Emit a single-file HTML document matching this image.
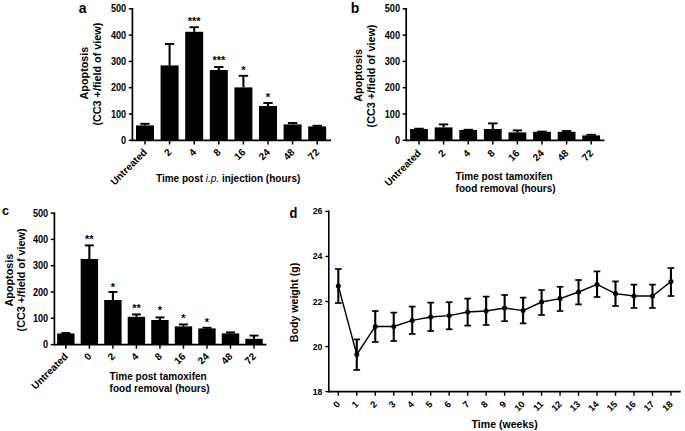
<!DOCTYPE html>
<html><head><meta charset="utf-8"><style>
html,body{margin:0;padding:0;background:#fff;}
svg{display:block;}
</style></head><body>
<svg width="685" height="431" viewBox="0 0 685 431" font-family='"Liberation Sans", sans-serif' fill="#000" stroke="#000">
<rect x="0" y="0" width="685" height="431" fill="#fff" stroke="none"/>
<g stroke="none">
</g>
<line x1="132.40" y1="8.00" x2="132.40" y2="141.10" stroke-width="1.7"/>
<line x1="128.80" y1="140.30" x2="132.40" y2="140.30" stroke-width="1.5"/>
<text stroke="none" x="0.00" y="0.00" font-size="10.2" text-anchor="end" font-weight="bold" transform="translate(126.20 143.90) scale(0.9 1)">0</text>
<line x1="128.80" y1="114.00" x2="132.40" y2="114.00" stroke-width="1.5"/>
<text stroke="none" x="0.00" y="0.00" font-size="10.2" text-anchor="end" font-weight="bold" transform="translate(126.20 117.60) scale(0.9 1)">100</text>
<line x1="128.80" y1="87.70" x2="132.40" y2="87.70" stroke-width="1.5"/>
<text stroke="none" x="0.00" y="0.00" font-size="10.2" text-anchor="end" font-weight="bold" transform="translate(126.20 91.30) scale(0.9 1)">200</text>
<line x1="128.80" y1="61.40" x2="132.40" y2="61.40" stroke-width="1.5"/>
<text stroke="none" x="0.00" y="0.00" font-size="10.2" text-anchor="end" font-weight="bold" transform="translate(126.20 65.00) scale(0.9 1)">300</text>
<line x1="128.80" y1="35.10" x2="132.40" y2="35.10" stroke-width="1.5"/>
<text stroke="none" x="0.00" y="0.00" font-size="10.2" text-anchor="end" font-weight="bold" transform="translate(126.20 38.70) scale(0.9 1)">400</text>
<line x1="128.80" y1="8.80" x2="132.40" y2="8.80" stroke-width="1.5"/>
<text stroke="none" x="0.00" y="0.00" font-size="10.2" text-anchor="end" font-weight="bold" transform="translate(126.20 12.40) scale(0.9 1)">500</text>
<line x1="131.60" y1="140.30" x2="331.00" y2="140.30" stroke-width="1.7"/>
<rect x="136.00" y="125.40" width="18.00" height="14.90" stroke="none"/>
<line x1="145.00" y1="125.40" x2="145.00" y2="123.80" stroke-width="2.1"/>
<line x1="140.30" y1="123.80" x2="149.70" y2="123.80" stroke-width="1.9"/>
<line x1="145.00" y1="140.30" x2="145.00" y2="144.50" stroke-width="1.5"/>
<text stroke="none" x="147.70" y="152.80" font-size="10" text-anchor="end" font-weight="bold" transform="rotate(-45 147.70 152.80)">Untreated</text>
<rect x="160.60" y="65.40" width="18.00" height="74.90" stroke="none"/>
<line x1="169.60" y1="65.40" x2="169.60" y2="44.00" stroke-width="2.1"/>
<line x1="164.90" y1="44.00" x2="174.30" y2="44.00" stroke-width="1.9"/>
<line x1="169.60" y1="140.30" x2="169.60" y2="144.50" stroke-width="1.5"/>
<text stroke="none" x="172.30" y="152.80" font-size="10" text-anchor="end" font-weight="bold" transform="rotate(-45 172.30 152.80)">2</text>
<rect x="185.20" y="31.80" width="18.00" height="108.50" stroke="none"/>
<line x1="194.20" y1="31.80" x2="194.20" y2="27.20" stroke-width="2.1"/>
<line x1="189.50" y1="27.20" x2="198.90" y2="27.20" stroke-width="1.9"/>
<line x1="194.20" y1="140.30" x2="194.20" y2="144.50" stroke-width="1.5"/>
<text stroke="none" x="196.90" y="152.80" font-size="10" text-anchor="end" font-weight="bold" transform="rotate(-45 196.90 152.80)">4</text>
<text stroke="none" x="194.20" y="25.40" font-size="11" text-anchor="middle" font-weight="bold">***</text>
<rect x="209.80" y="70.00" width="18.00" height="70.30" stroke="none"/>
<line x1="218.80" y1="70.00" x2="218.80" y2="67.00" stroke-width="2.1"/>
<line x1="214.10" y1="67.00" x2="223.50" y2="67.00" stroke-width="1.9"/>
<line x1="218.80" y1="140.30" x2="218.80" y2="144.50" stroke-width="1.5"/>
<text stroke="none" x="221.50" y="152.80" font-size="10" text-anchor="end" font-weight="bold" transform="rotate(-45 221.50 152.80)">8</text>
<text stroke="none" x="218.80" y="64.20" font-size="11" text-anchor="middle" font-weight="bold">***</text>
<rect x="234.40" y="87.40" width="18.00" height="52.90" stroke="none"/>
<line x1="243.40" y1="87.40" x2="243.40" y2="75.80" stroke-width="2.1"/>
<line x1="238.70" y1="75.80" x2="248.10" y2="75.80" stroke-width="1.9"/>
<line x1="243.40" y1="140.30" x2="243.40" y2="144.50" stroke-width="1.5"/>
<text stroke="none" x="246.10" y="152.80" font-size="10" text-anchor="end" font-weight="bold" transform="rotate(-45 246.10 152.80)">16</text>
<text stroke="none" x="243.40" y="73.80" font-size="11" text-anchor="middle" font-weight="bold">*</text>
<rect x="259.00" y="106.00" width="18.00" height="34.30" stroke="none"/>
<line x1="268.00" y1="106.00" x2="268.00" y2="103.00" stroke-width="2.1"/>
<line x1="263.30" y1="103.00" x2="272.70" y2="103.00" stroke-width="1.9"/>
<line x1="268.00" y1="140.30" x2="268.00" y2="144.50" stroke-width="1.5"/>
<text stroke="none" x="270.70" y="152.80" font-size="10" text-anchor="end" font-weight="bold" transform="rotate(-45 270.70 152.80)">24</text>
<text stroke="none" x="268.00" y="101.20" font-size="11" text-anchor="middle" font-weight="bold">*</text>
<rect x="283.60" y="124.40" width="18.00" height="15.90" stroke="none"/>
<line x1="292.60" y1="124.40" x2="292.60" y2="123.00" stroke-width="2.1"/>
<line x1="287.90" y1="123.00" x2="297.30" y2="123.00" stroke-width="1.9"/>
<line x1="292.60" y1="140.30" x2="292.60" y2="144.50" stroke-width="1.5"/>
<text stroke="none" x="295.30" y="152.80" font-size="10" text-anchor="end" font-weight="bold" transform="rotate(-45 295.30 152.80)">48</text>
<rect x="308.20" y="126.40" width="18.00" height="13.90" stroke="none"/>
<line x1="317.20" y1="126.40" x2="317.20" y2="125.80" stroke-width="2.1"/>
<line x1="312.50" y1="125.80" x2="321.90" y2="125.80" stroke-width="1.9"/>
<line x1="317.20" y1="140.30" x2="317.20" y2="144.50" stroke-width="1.5"/>
<text stroke="none" x="319.90" y="152.80" font-size="10" text-anchor="end" font-weight="bold" transform="rotate(-45 319.90 152.80)">72</text>
<text stroke="none" x="156.00" y="181.50" font-size="10" font-weight="bold">Time post <tspan font-style="italic" font-weight="normal">i.p.</tspan> injection (hours)</text>
<text stroke="none" x="78.80" y="12.80" font-size="14" text-anchor="start" font-weight="bold">a</text>
<text stroke="none" x="88.40" y="73.05" font-size="10.8" text-anchor="middle" font-weight="bold" transform="rotate(-90 88.40 73.05)">Apoptosis</text>
<text stroke="none" x="101.20" y="74.15" font-size="10.8" text-anchor="middle" font-weight="bold" transform="rotate(-90 101.20 74.15)">(CC3 +/field of view)</text>
<line x1="406.20" y1="8.00" x2="406.20" y2="141.10" stroke-width="1.7"/>
<line x1="402.60" y1="140.30" x2="406.20" y2="140.30" stroke-width="1.5"/>
<text stroke="none" x="0.00" y="0.00" font-size="10.2" text-anchor="end" font-weight="bold" transform="translate(400.00 143.90) scale(0.9 1)">0</text>
<line x1="402.60" y1="114.00" x2="406.20" y2="114.00" stroke-width="1.5"/>
<text stroke="none" x="0.00" y="0.00" font-size="10.2" text-anchor="end" font-weight="bold" transform="translate(400.00 117.60) scale(0.9 1)">100</text>
<line x1="402.60" y1="87.70" x2="406.20" y2="87.70" stroke-width="1.5"/>
<text stroke="none" x="0.00" y="0.00" font-size="10.2" text-anchor="end" font-weight="bold" transform="translate(400.00 91.30) scale(0.9 1)">200</text>
<line x1="402.60" y1="61.40" x2="406.20" y2="61.40" stroke-width="1.5"/>
<text stroke="none" x="0.00" y="0.00" font-size="10.2" text-anchor="end" font-weight="bold" transform="translate(400.00 65.00) scale(0.9 1)">300</text>
<line x1="402.60" y1="35.10" x2="406.20" y2="35.10" stroke-width="1.5"/>
<text stroke="none" x="0.00" y="0.00" font-size="10.2" text-anchor="end" font-weight="bold" transform="translate(400.00 38.70) scale(0.9 1)">400</text>
<line x1="402.60" y1="8.80" x2="406.20" y2="8.80" stroke-width="1.5"/>
<text stroke="none" x="0.00" y="0.00" font-size="10.2" text-anchor="end" font-weight="bold" transform="translate(400.00 12.40) scale(0.9 1)">500</text>
<line x1="405.40" y1="140.30" x2="604.40" y2="140.30" stroke-width="1.7"/>
<rect x="410.10" y="129.00" width="17.80" height="11.30" stroke="none"/>
<line x1="414.30" y1="128.70" x2="423.70" y2="128.70" stroke-width="1.9"/>
<line x1="419.00" y1="140.30" x2="419.00" y2="144.50" stroke-width="1.5"/>
<text stroke="none" x="421.70" y="153.80" font-size="10" text-anchor="end" font-weight="bold" transform="rotate(-45 421.70 153.80)">Untreated</text>
<rect x="434.70" y="127.40" width="17.80" height="12.90" stroke="none"/>
<line x1="443.60" y1="127.40" x2="443.60" y2="124.40" stroke-width="2.1"/>
<line x1="438.90" y1="124.40" x2="448.30" y2="124.40" stroke-width="1.9"/>
<line x1="443.60" y1="140.30" x2="443.60" y2="144.50" stroke-width="1.5"/>
<text stroke="none" x="446.30" y="153.80" font-size="10" text-anchor="end" font-weight="bold" transform="rotate(-45 446.30 153.80)">2</text>
<rect x="459.30" y="130.00" width="17.80" height="10.30" stroke="none"/>
<line x1="463.50" y1="129.80" x2="472.90" y2="129.80" stroke-width="1.9"/>
<line x1="468.20" y1="140.30" x2="468.20" y2="144.50" stroke-width="1.5"/>
<text stroke="none" x="470.90" y="153.80" font-size="10" text-anchor="end" font-weight="bold" transform="rotate(-45 470.90 153.80)">4</text>
<rect x="483.90" y="129.00" width="17.80" height="11.30" stroke="none"/>
<line x1="492.80" y1="129.00" x2="492.80" y2="123.40" stroke-width="2.1"/>
<line x1="488.10" y1="123.40" x2="497.50" y2="123.40" stroke-width="1.9"/>
<line x1="492.80" y1="140.30" x2="492.80" y2="144.50" stroke-width="1.5"/>
<text stroke="none" x="495.50" y="153.80" font-size="10" text-anchor="end" font-weight="bold" transform="rotate(-45 495.50 153.80)">8</text>
<rect x="508.50" y="132.40" width="17.80" height="7.90" stroke="none"/>
<line x1="517.40" y1="132.40" x2="517.40" y2="130.40" stroke-width="2.1"/>
<line x1="512.70" y1="130.40" x2="522.10" y2="130.40" stroke-width="1.9"/>
<line x1="517.40" y1="140.30" x2="517.40" y2="144.50" stroke-width="1.5"/>
<text stroke="none" x="520.10" y="153.80" font-size="10" text-anchor="end" font-weight="bold" transform="rotate(-45 520.10 153.80)">16</text>
<rect x="533.10" y="131.80" width="17.80" height="8.50" stroke="none"/>
<line x1="537.30" y1="131.60" x2="546.70" y2="131.60" stroke-width="1.9"/>
<line x1="542.00" y1="140.30" x2="542.00" y2="144.50" stroke-width="1.5"/>
<text stroke="none" x="544.70" y="153.80" font-size="10" text-anchor="end" font-weight="bold" transform="rotate(-45 544.70 153.80)">24</text>
<rect x="557.70" y="131.80" width="17.80" height="8.50" stroke="none"/>
<line x1="566.60" y1="131.80" x2="566.60" y2="131.00" stroke-width="2.1"/>
<line x1="561.90" y1="131.00" x2="571.30" y2="131.00" stroke-width="1.9"/>
<line x1="566.60" y1="140.30" x2="566.60" y2="144.50" stroke-width="1.5"/>
<text stroke="none" x="569.30" y="153.80" font-size="10" text-anchor="end" font-weight="bold" transform="rotate(-45 569.30 153.80)">48</text>
<rect x="582.30" y="135.40" width="17.80" height="4.90" stroke="none"/>
<line x1="591.20" y1="135.40" x2="591.20" y2="134.80" stroke-width="2.1"/>
<line x1="586.50" y1="134.80" x2="595.90" y2="134.80" stroke-width="1.9"/>
<line x1="591.20" y1="140.30" x2="591.20" y2="144.50" stroke-width="1.5"/>
<text stroke="none" x="593.90" y="153.80" font-size="10" text-anchor="end" font-weight="bold" transform="rotate(-45 593.90 153.80)">72</text>
<text stroke="none" x="455.60" y="179.50" font-size="10" font-weight="bold">Time post tamoxifen</text>
<text stroke="none" x="455.60" y="191.50" font-size="10" font-weight="bold">food removal (hours)</text>
<text stroke="none" x="350.80" y="13.30" font-size="14" text-anchor="start" font-weight="bold">b</text>
<text stroke="none" x="362.50" y="75.45" font-size="10.8" text-anchor="middle" font-weight="bold" transform="rotate(-90 362.50 75.45)">Apoptosis</text>
<text stroke="none" x="375.30" y="76.00" font-size="10.8" text-anchor="middle" font-weight="bold" transform="rotate(-90 375.30 76.00)">(CC3 +/field of view)</text>
<line x1="54.40" y1="212.30" x2="54.40" y2="345.40" stroke-width="1.7"/>
<line x1="50.80" y1="344.60" x2="54.40" y2="344.60" stroke-width="1.5"/>
<text stroke="none" x="0.00" y="0.00" font-size="10.2" text-anchor="end" font-weight="bold" transform="translate(48.20 348.20) scale(0.9 1)">0</text>
<line x1="50.80" y1="318.30" x2="54.40" y2="318.30" stroke-width="1.5"/>
<text stroke="none" x="0.00" y="0.00" font-size="10.2" text-anchor="end" font-weight="bold" transform="translate(48.20 321.90) scale(0.9 1)">100</text>
<line x1="50.80" y1="292.00" x2="54.40" y2="292.00" stroke-width="1.5"/>
<text stroke="none" x="0.00" y="0.00" font-size="10.2" text-anchor="end" font-weight="bold" transform="translate(48.20 295.60) scale(0.9 1)">200</text>
<line x1="50.80" y1="265.70" x2="54.40" y2="265.70" stroke-width="1.5"/>
<text stroke="none" x="0.00" y="0.00" font-size="10.2" text-anchor="end" font-weight="bold" transform="translate(48.20 269.30) scale(0.9 1)">300</text>
<line x1="50.80" y1="239.40" x2="54.40" y2="239.40" stroke-width="1.5"/>
<text stroke="none" x="0.00" y="0.00" font-size="10.2" text-anchor="end" font-weight="bold" transform="translate(48.20 243.00) scale(0.9 1)">400</text>
<line x1="50.80" y1="213.10" x2="54.40" y2="213.10" stroke-width="1.5"/>
<text stroke="none" x="0.00" y="0.00" font-size="10.2" text-anchor="end" font-weight="bold" transform="translate(48.20 216.70) scale(0.9 1)">500</text>
<line x1="53.60" y1="344.60" x2="266.40" y2="344.60" stroke-width="1.7"/>
<rect x="57.15" y="333.50" width="17.40" height="11.10" stroke="none"/>
<line x1="65.85" y1="333.50" x2="65.85" y2="333.00" stroke-width="2.1"/>
<line x1="61.35" y1="333.00" x2="70.35" y2="333.00" stroke-width="1.9"/>
<line x1="65.85" y1="344.60" x2="65.85" y2="348.80" stroke-width="1.5"/>
<text stroke="none" x="68.55" y="357.10" font-size="10" text-anchor="end" font-weight="bold" transform="rotate(-45 68.55 357.10)">Untreated</text>
<rect x="80.67" y="259.00" width="17.40" height="85.60" stroke="none"/>
<line x1="89.37" y1="259.00" x2="89.37" y2="245.40" stroke-width="2.1"/>
<line x1="84.87" y1="245.40" x2="93.87" y2="245.40" stroke-width="1.9"/>
<line x1="89.37" y1="344.60" x2="89.37" y2="348.80" stroke-width="1.5"/>
<text stroke="none" x="92.07" y="357.10" font-size="10" text-anchor="end" font-weight="bold" transform="rotate(-45 92.07 357.10)">0</text>
<text stroke="none" x="89.37" y="243.20" font-size="11" text-anchor="middle" font-weight="bold">**</text>
<rect x="104.19" y="300.00" width="17.40" height="44.60" stroke="none"/>
<line x1="112.89" y1="300.00" x2="112.89" y2="292.00" stroke-width="2.1"/>
<line x1="108.39" y1="292.00" x2="117.39" y2="292.00" stroke-width="1.9"/>
<line x1="112.89" y1="344.60" x2="112.89" y2="348.80" stroke-width="1.5"/>
<text stroke="none" x="115.59" y="357.10" font-size="10" text-anchor="end" font-weight="bold" transform="rotate(-45 115.59 357.10)">2</text>
<text stroke="none" x="112.89" y="291.20" font-size="11" text-anchor="middle" font-weight="bold">*</text>
<rect x="127.71" y="316.80" width="17.40" height="27.80" stroke="none"/>
<line x1="136.41" y1="316.80" x2="136.41" y2="314.40" stroke-width="2.1"/>
<line x1="131.91" y1="314.40" x2="140.91" y2="314.40" stroke-width="1.9"/>
<line x1="136.41" y1="344.60" x2="136.41" y2="348.80" stroke-width="1.5"/>
<text stroke="none" x="139.11" y="357.10" font-size="10" text-anchor="end" font-weight="bold" transform="rotate(-45 139.11 357.10)">4</text>
<text stroke="none" x="136.41" y="311.80" font-size="11" text-anchor="middle" font-weight="bold">**</text>
<rect x="151.23" y="320.00" width="17.40" height="24.60" stroke="none"/>
<line x1="159.93" y1="320.00" x2="159.93" y2="317.40" stroke-width="2.1"/>
<line x1="155.43" y1="317.40" x2="164.43" y2="317.40" stroke-width="1.9"/>
<line x1="159.93" y1="344.60" x2="159.93" y2="348.80" stroke-width="1.5"/>
<text stroke="none" x="162.63" y="357.10" font-size="10" text-anchor="end" font-weight="bold" transform="rotate(-45 162.63 357.10)">8</text>
<text stroke="none" x="159.93" y="314.20" font-size="11" text-anchor="middle" font-weight="bold">*</text>
<rect x="174.75" y="326.40" width="17.40" height="18.20" stroke="none"/>
<line x1="183.45" y1="326.40" x2="183.45" y2="324.40" stroke-width="2.1"/>
<line x1="178.95" y1="324.40" x2="187.95" y2="324.40" stroke-width="1.9"/>
<line x1="183.45" y1="344.60" x2="183.45" y2="348.80" stroke-width="1.5"/>
<text stroke="none" x="186.15" y="357.10" font-size="10" text-anchor="end" font-weight="bold" transform="rotate(-45 186.15 357.10)">16</text>
<text stroke="none" x="183.45" y="322.20" font-size="11" text-anchor="middle" font-weight="bold">*</text>
<rect x="198.27" y="328.40" width="17.40" height="16.20" stroke="none"/>
<line x1="206.97" y1="328.40" x2="206.97" y2="327.80" stroke-width="2.1"/>
<line x1="202.47" y1="327.80" x2="211.47" y2="327.80" stroke-width="1.9"/>
<line x1="206.97" y1="344.60" x2="206.97" y2="348.80" stroke-width="1.5"/>
<text stroke="none" x="209.67" y="357.10" font-size="10" text-anchor="end" font-weight="bold" transform="rotate(-45 209.67 357.10)">24</text>
<text stroke="none" x="206.97" y="326.20" font-size="11" text-anchor="middle" font-weight="bold">*</text>
<rect x="221.79" y="333.40" width="17.40" height="11.20" stroke="none"/>
<line x1="230.49" y1="333.40" x2="230.49" y2="332.40" stroke-width="2.1"/>
<line x1="225.99" y1="332.40" x2="234.99" y2="332.40" stroke-width="1.9"/>
<line x1="230.49" y1="344.60" x2="230.49" y2="348.80" stroke-width="1.5"/>
<text stroke="none" x="233.19" y="357.10" font-size="10" text-anchor="end" font-weight="bold" transform="rotate(-45 233.19 357.10)">48</text>
<rect x="245.31" y="338.80" width="17.40" height="5.80" stroke="none"/>
<line x1="254.01" y1="338.80" x2="254.01" y2="335.60" stroke-width="2.1"/>
<line x1="249.51" y1="335.60" x2="258.51" y2="335.60" stroke-width="1.9"/>
<line x1="254.01" y1="344.60" x2="254.01" y2="348.80" stroke-width="1.5"/>
<text stroke="none" x="256.71" y="357.10" font-size="10" text-anchor="end" font-weight="bold" transform="rotate(-45 256.71 357.10)">72</text>
<text stroke="none" x="109.60" y="380.20" font-size="10" font-weight="bold">Time post tamoxifen</text>
<text stroke="none" x="109.60" y="392.20" font-size="10" font-weight="bold">food removal (hours)</text>
<text stroke="none" x="2.00" y="214.60" font-size="12.8" text-anchor="start" font-weight="bold">c</text>
<text stroke="none" x="12.60" y="280.15" font-size="10.8" text-anchor="middle" font-weight="bold" transform="rotate(-90 12.60 280.15)">Apoptosis</text>
<text stroke="none" x="25.10" y="279.95" font-size="10.8" text-anchor="middle" font-weight="bold" transform="rotate(-90 25.10 279.95)">(CC3 +/field of view)</text>
<line x1="328.80" y1="210.60" x2="328.80" y2="392.30" stroke-width="1.6"/>
<line x1="325.40" y1="391.60" x2="328.80" y2="391.60" stroke-width="1.4"/>
<text stroke="none" x="0.00" y="0.00" font-size="9.9" text-anchor="end" font-weight="bold" transform="translate(322.40 394.60) scale(0.88 1)">18</text>
<line x1="325.40" y1="346.55" x2="328.80" y2="346.55" stroke-width="1.4"/>
<text stroke="none" x="0.00" y="0.00" font-size="9.9" text-anchor="end" font-weight="bold" transform="translate(322.40 349.55) scale(0.88 1)">20</text>
<line x1="325.40" y1="301.50" x2="328.80" y2="301.50" stroke-width="1.4"/>
<text stroke="none" x="0.00" y="0.00" font-size="9.9" text-anchor="end" font-weight="bold" transform="translate(322.40 304.50) scale(0.88 1)">22</text>
<line x1="325.40" y1="256.45" x2="328.80" y2="256.45" stroke-width="1.4"/>
<text stroke="none" x="0.00" y="0.00" font-size="9.9" text-anchor="end" font-weight="bold" transform="translate(322.40 259.45) scale(0.88 1)">24</text>
<line x1="325.40" y1="211.40" x2="328.80" y2="211.40" stroke-width="1.4"/>
<text stroke="none" x="0.00" y="0.00" font-size="9.9" text-anchor="end" font-weight="bold" transform="translate(322.40 214.40) scale(0.88 1)">26</text>
<line x1="328.10" y1="391.60" x2="680.70" y2="391.60" stroke-width="1.6"/>
<path d="M338.30,286.00 L356.78,354.50 L375.26,326.40 L393.74,326.50 L412.22,320.40 L430.70,317.00 L449.18,315.60 L467.66,312.00 L486.14,311.00 L504.62,308.00 L523.10,310.60 L541.58,302.00 L560.06,298.60 L578.54,292.00 L597.02,284.40 L615.50,293.60 L633.98,296.00 L652.46,296.00 L670.94,281.60" fill="none" stroke-width="1.4" stroke-linejoin="round"/>
<line x1="338.30" y1="269.00" x2="338.30" y2="303.00" stroke-width="2.1"/>
<line x1="335.00" y1="269.00" x2="341.60" y2="269.00" stroke-width="1.7"/>
<line x1="335.00" y1="303.00" x2="341.60" y2="303.00" stroke-width="1.7"/>
<circle cx="338.30" cy="286.00" r="2.5" stroke="none"/>
<line x1="338.30" y1="391.60" x2="338.30" y2="395.80" stroke-width="1.4"/>
<text stroke="none" x="340.70" y="404.80" font-size="9.3" text-anchor="end" font-weight="bold" transform="rotate(-45 340.70 404.80)">0</text>
<line x1="356.78" y1="339.40" x2="356.78" y2="370.00" stroke-width="2.1"/>
<line x1="353.48" y1="339.40" x2="360.08" y2="339.40" stroke-width="1.7"/>
<line x1="353.48" y1="370.00" x2="360.08" y2="370.00" stroke-width="1.7"/>
<circle cx="356.78" cy="354.50" r="2.5" stroke="none"/>
<line x1="356.78" y1="391.60" x2="356.78" y2="395.80" stroke-width="1.4"/>
<text stroke="none" x="359.18" y="404.80" font-size="9.3" text-anchor="end" font-weight="bold" transform="rotate(-45 359.18 404.80)">1</text>
<line x1="375.26" y1="311.00" x2="375.26" y2="342.00" stroke-width="2.1"/>
<line x1="371.96" y1="311.00" x2="378.56" y2="311.00" stroke-width="1.7"/>
<line x1="371.96" y1="342.00" x2="378.56" y2="342.00" stroke-width="1.7"/>
<circle cx="375.26" cy="326.40" r="2.5" stroke="none"/>
<line x1="375.26" y1="391.60" x2="375.26" y2="395.80" stroke-width="1.4"/>
<text stroke="none" x="377.66" y="404.80" font-size="9.3" text-anchor="end" font-weight="bold" transform="rotate(-45 377.66 404.80)">2</text>
<line x1="393.74" y1="312.60" x2="393.74" y2="341.00" stroke-width="2.1"/>
<line x1="390.44" y1="312.60" x2="397.04" y2="312.60" stroke-width="1.7"/>
<line x1="390.44" y1="341.00" x2="397.04" y2="341.00" stroke-width="1.7"/>
<circle cx="393.74" cy="326.50" r="2.5" stroke="none"/>
<line x1="393.74" y1="391.60" x2="393.74" y2="395.80" stroke-width="1.4"/>
<text stroke="none" x="396.14" y="404.80" font-size="9.3" text-anchor="end" font-weight="bold" transform="rotate(-45 396.14 404.80)">3</text>
<line x1="412.22" y1="306.60" x2="412.22" y2="334.00" stroke-width="2.1"/>
<line x1="408.92" y1="306.60" x2="415.52" y2="306.60" stroke-width="1.7"/>
<line x1="408.92" y1="334.00" x2="415.52" y2="334.00" stroke-width="1.7"/>
<circle cx="412.22" cy="320.40" r="2.5" stroke="none"/>
<line x1="412.22" y1="391.60" x2="412.22" y2="395.80" stroke-width="1.4"/>
<text stroke="none" x="414.62" y="404.80" font-size="9.3" text-anchor="end" font-weight="bold" transform="rotate(-45 414.62 404.80)">4</text>
<line x1="430.70" y1="302.60" x2="430.70" y2="331.00" stroke-width="2.1"/>
<line x1="427.40" y1="302.60" x2="434.00" y2="302.60" stroke-width="1.7"/>
<line x1="427.40" y1="331.00" x2="434.00" y2="331.00" stroke-width="1.7"/>
<circle cx="430.70" cy="317.00" r="2.5" stroke="none"/>
<line x1="430.70" y1="391.60" x2="430.70" y2="395.80" stroke-width="1.4"/>
<text stroke="none" x="433.10" y="404.80" font-size="9.3" text-anchor="end" font-weight="bold" transform="rotate(-45 433.10 404.80)">5</text>
<line x1="449.18" y1="302.20" x2="449.18" y2="329.30" stroke-width="2.1"/>
<line x1="445.88" y1="302.20" x2="452.48" y2="302.20" stroke-width="1.7"/>
<line x1="445.88" y1="329.30" x2="452.48" y2="329.30" stroke-width="1.7"/>
<circle cx="449.18" cy="315.60" r="2.5" stroke="none"/>
<line x1="449.18" y1="391.60" x2="449.18" y2="395.80" stroke-width="1.4"/>
<text stroke="none" x="451.58" y="404.80" font-size="9.3" text-anchor="end" font-weight="bold" transform="rotate(-45 451.58 404.80)">6</text>
<line x1="467.66" y1="298.60" x2="467.66" y2="325.60" stroke-width="2.1"/>
<line x1="464.36" y1="298.60" x2="470.96" y2="298.60" stroke-width="1.7"/>
<line x1="464.36" y1="325.60" x2="470.96" y2="325.60" stroke-width="1.7"/>
<circle cx="467.66" cy="312.00" r="2.5" stroke="none"/>
<line x1="467.66" y1="391.60" x2="467.66" y2="395.80" stroke-width="1.4"/>
<text stroke="none" x="470.06" y="404.80" font-size="9.3" text-anchor="end" font-weight="bold" transform="rotate(-45 470.06 404.80)">7</text>
<line x1="486.14" y1="296.60" x2="486.14" y2="325.00" stroke-width="2.1"/>
<line x1="482.84" y1="296.60" x2="489.44" y2="296.60" stroke-width="1.7"/>
<line x1="482.84" y1="325.00" x2="489.44" y2="325.00" stroke-width="1.7"/>
<circle cx="486.14" cy="311.00" r="2.5" stroke="none"/>
<line x1="486.14" y1="391.60" x2="486.14" y2="395.80" stroke-width="1.4"/>
<text stroke="none" x="488.54" y="404.80" font-size="9.3" text-anchor="end" font-weight="bold" transform="rotate(-45 488.54 404.80)">8</text>
<line x1="504.62" y1="295.00" x2="504.62" y2="321.20" stroke-width="2.1"/>
<line x1="501.32" y1="295.00" x2="507.92" y2="295.00" stroke-width="1.7"/>
<line x1="501.32" y1="321.20" x2="507.92" y2="321.20" stroke-width="1.7"/>
<circle cx="504.62" cy="308.00" r="2.5" stroke="none"/>
<line x1="504.62" y1="391.60" x2="504.62" y2="395.80" stroke-width="1.4"/>
<text stroke="none" x="507.02" y="404.80" font-size="9.3" text-anchor="end" font-weight="bold" transform="rotate(-45 507.02 404.80)">9</text>
<line x1="523.10" y1="297.60" x2="523.10" y2="323.40" stroke-width="2.1"/>
<line x1="519.80" y1="297.60" x2="526.40" y2="297.60" stroke-width="1.7"/>
<line x1="519.80" y1="323.40" x2="526.40" y2="323.40" stroke-width="1.7"/>
<circle cx="523.10" cy="310.60" r="2.5" stroke="none"/>
<line x1="523.10" y1="391.60" x2="523.10" y2="395.80" stroke-width="1.4"/>
<text stroke="none" x="525.50" y="404.80" font-size="9.3" text-anchor="end" font-weight="bold" transform="rotate(-45 525.50 404.80)">10</text>
<line x1="541.58" y1="290.00" x2="541.58" y2="315.00" stroke-width="2.1"/>
<line x1="538.28" y1="290.00" x2="544.88" y2="290.00" stroke-width="1.7"/>
<line x1="538.28" y1="315.00" x2="544.88" y2="315.00" stroke-width="1.7"/>
<circle cx="541.58" cy="302.00" r="2.5" stroke="none"/>
<line x1="541.58" y1="391.60" x2="541.58" y2="395.80" stroke-width="1.4"/>
<text stroke="none" x="543.98" y="404.80" font-size="9.3" text-anchor="end" font-weight="bold" transform="rotate(-45 543.98 404.80)">11</text>
<line x1="560.06" y1="286.80" x2="560.06" y2="311.00" stroke-width="2.1"/>
<line x1="556.76" y1="286.80" x2="563.36" y2="286.80" stroke-width="1.7"/>
<line x1="556.76" y1="311.00" x2="563.36" y2="311.00" stroke-width="1.7"/>
<circle cx="560.06" cy="298.60" r="2.5" stroke="none"/>
<line x1="560.06" y1="391.60" x2="560.06" y2="395.80" stroke-width="1.4"/>
<text stroke="none" x="562.46" y="404.80" font-size="9.3" text-anchor="end" font-weight="bold" transform="rotate(-45 562.46 404.80)">12</text>
<line x1="578.54" y1="280.00" x2="578.54" y2="304.40" stroke-width="2.1"/>
<line x1="575.24" y1="280.00" x2="581.84" y2="280.00" stroke-width="1.7"/>
<line x1="575.24" y1="304.40" x2="581.84" y2="304.40" stroke-width="1.7"/>
<circle cx="578.54" cy="292.00" r="2.5" stroke="none"/>
<line x1="578.54" y1="391.60" x2="578.54" y2="395.80" stroke-width="1.4"/>
<text stroke="none" x="580.94" y="404.80" font-size="9.3" text-anchor="end" font-weight="bold" transform="rotate(-45 580.94 404.80)">13</text>
<line x1="597.02" y1="271.40" x2="597.02" y2="297.00" stroke-width="2.1"/>
<line x1="593.72" y1="271.40" x2="600.32" y2="271.40" stroke-width="1.7"/>
<line x1="593.72" y1="297.00" x2="600.32" y2="297.00" stroke-width="1.7"/>
<circle cx="597.02" cy="284.40" r="2.5" stroke="none"/>
<line x1="597.02" y1="391.60" x2="597.02" y2="395.80" stroke-width="1.4"/>
<text stroke="none" x="599.42" y="404.80" font-size="9.3" text-anchor="end" font-weight="bold" transform="rotate(-45 599.42 404.80)">14</text>
<line x1="615.50" y1="281.40" x2="615.50" y2="306.00" stroke-width="2.1"/>
<line x1="612.20" y1="281.40" x2="618.80" y2="281.40" stroke-width="1.7"/>
<line x1="612.20" y1="306.00" x2="618.80" y2="306.00" stroke-width="1.7"/>
<circle cx="615.50" cy="293.60" r="2.5" stroke="none"/>
<line x1="615.50" y1="391.60" x2="615.50" y2="395.80" stroke-width="1.4"/>
<text stroke="none" x="617.90" y="404.80" font-size="9.3" text-anchor="end" font-weight="bold" transform="rotate(-45 617.90 404.80)">15</text>
<line x1="633.98" y1="284.60" x2="633.98" y2="308.00" stroke-width="2.1"/>
<line x1="630.68" y1="284.60" x2="637.28" y2="284.60" stroke-width="1.7"/>
<line x1="630.68" y1="308.00" x2="637.28" y2="308.00" stroke-width="1.7"/>
<circle cx="633.98" cy="296.00" r="2.5" stroke="none"/>
<line x1="633.98" y1="391.60" x2="633.98" y2="395.80" stroke-width="1.4"/>
<text stroke="none" x="636.38" y="404.80" font-size="9.3" text-anchor="end" font-weight="bold" transform="rotate(-45 636.38 404.80)">16</text>
<line x1="652.46" y1="284.60" x2="652.46" y2="308.00" stroke-width="2.1"/>
<line x1="649.16" y1="284.60" x2="655.76" y2="284.60" stroke-width="1.7"/>
<line x1="649.16" y1="308.00" x2="655.76" y2="308.00" stroke-width="1.7"/>
<circle cx="652.46" cy="296.00" r="2.5" stroke="none"/>
<line x1="652.46" y1="391.60" x2="652.46" y2="395.80" stroke-width="1.4"/>
<text stroke="none" x="654.86" y="404.80" font-size="9.3" text-anchor="end" font-weight="bold" transform="rotate(-45 654.86 404.80)">17</text>
<line x1="670.94" y1="268.00" x2="670.94" y2="296.00" stroke-width="2.1"/>
<line x1="667.64" y1="268.00" x2="674.24" y2="268.00" stroke-width="1.7"/>
<line x1="667.64" y1="296.00" x2="674.24" y2="296.00" stroke-width="1.7"/>
<circle cx="670.94" cy="281.60" r="2.5" stroke="none"/>
<line x1="670.94" y1="391.60" x2="670.94" y2="395.80" stroke-width="1.4"/>
<text stroke="none" x="673.34" y="404.80" font-size="9.3" text-anchor="end" font-weight="bold" transform="rotate(-45 673.34 404.80)">18</text>
<text stroke="none" x="471.60" y="427.60" font-size="10.55" text-anchor="start" font-weight="bold">Time (weeks)</text>
<text stroke="none" x="298.00" y="302.40" font-size="10.6" text-anchor="middle" font-weight="bold" transform="rotate(-90 298.00 302.40)">Body weight (g)</text>
<text stroke="none" x="0.00" y="0.00" font-size="14" text-anchor="start" font-weight="bold" transform="translate(289.40 218.10) scale(0.92 1)">d</text>
</svg>
</body></html>
